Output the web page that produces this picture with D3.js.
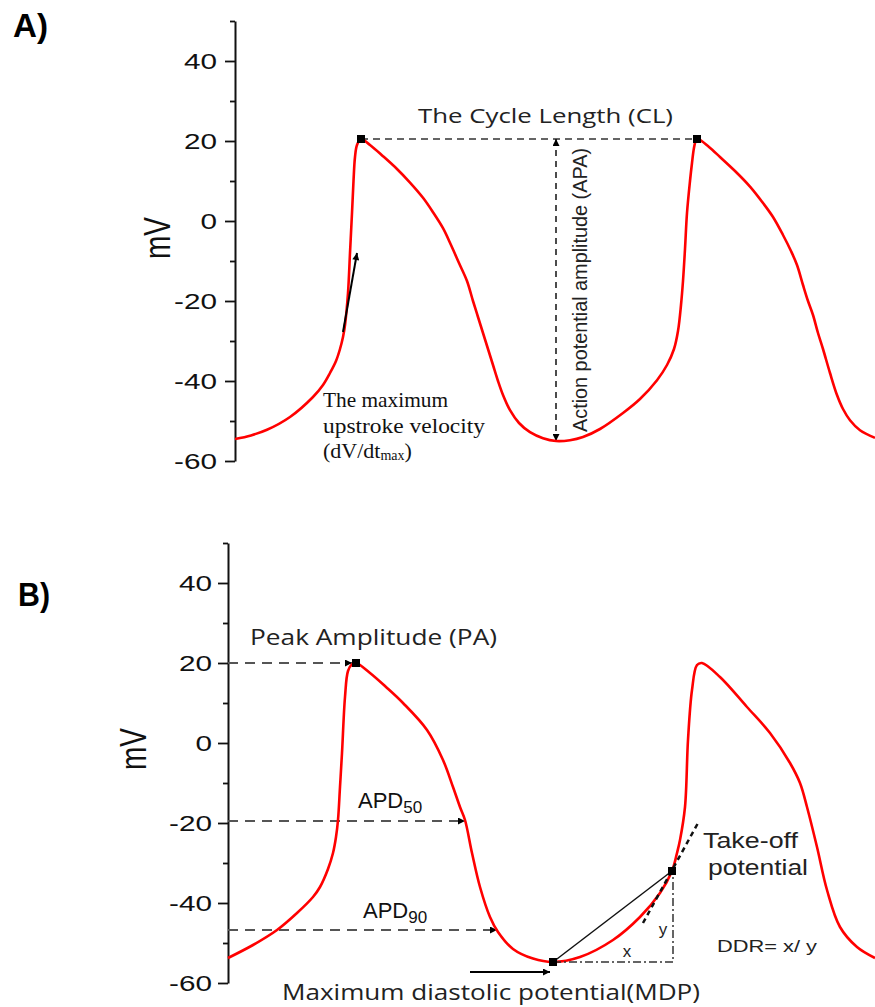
<!DOCTYPE html>
<html>
<head>
<meta charset="utf-8">
<script src="https://cdn.jsdelivr.net/npm/d3@7"></script>
<style>
  body { margin: 0; background: #fff; }
  svg { display: block; }
</style>
</head>
<body>
<svg id="chart" width="875" height="1007"></svg>
<script>
// ---------- Data ----------
const yTicks = [-60, -40, -20, 0, 20, 40];
const yMinor = [-50, -30, -10, 10, 30, 50];

// panel A trace: [time (a.u.), mV]
const traceA = [
  [0,-54.5],[16,-53.6],[32,-52.2],[55,-49],[78,-44],[88,-41],[95,-38],[101,-35],[105,-32],
  [108,-29],[110,-26],[113,-18],[115,-8],[117,2],[118.5,10],[120,16],[122,19],[126,20.5],
  [135,19],[148,16.2],[162,13],[175,9.6],[188,5.8],[198,2.2],[208,-1.8],[216,-6],[224,-10.5],
  [232,-15],[238,-20],[243,-24],[248,-28],[253,-32],[258,-36],[263,-40],[268,-43.5],[275,-47.3],
  [284,-50.5],[295,-52.8],[308,-54.3],[321,-55],[335,-54.8],[348,-54],[365,-52],[388,-48],
  [405,-44.5],[422,-39.8],[432,-36],[439,-32],[443,-27.5],[446,-21],[448,-15],[450,-7],[452,2],
  [455,10],[457,14.5],[459,18.3],[461,20.2],[463,20.5],[474,18.5],[485,16],[500,12.5],[515,8.6],
  [528,4.5],[538,1],[548,-3.5],[556,-7.5],[562,-11],[568,-16],[573,-20],[578,-23.5],[583,-28],
  [588,-32],[595,-38],[602,-43.5],[608,-47],[615,-49.8],[625,-52.3],[640,-54.2]
];
const peaksA = [[126, 20.5], [462, 20.5]];
const apaA = [[321, 20.5], [321, -55]];
const upstrokeA = [[108, -27.75], [122, -8]];

// panel B trace
const traceB = [
  [0,-53.75],[25,-50.5],[49,-46.75],[69,-42.5],[85,-38.5],[92,-36],[100,-31.5],[105,-27.5],
  [108,-23.5],[110,-19.25],[112,-11],[114,-2.5],[117,11.5],[120,18],[124,19.7],[128,20],
  [142,17.5],[158,14],[175,10],[199,3.25],[215,-4.25],[225,-11],[232,-16],[237,-19.25],
  [244,-27.5],[252,-36],[262,-43.5],[270,-47.25],[285,-51.5],[305,-53.9],[325,-54.75],
  [352,-53.5],[385,-49.25],[412,-43.5],[432,-37.5],[444,-32],[449,-27.5],[452,-24.25],
  [457,-16],[460,0.75],[464,13.25],[469,19.5],[474,20],[492,16.5],[519,9],[542,2.5],
  [562,-5],[572,-10],[579,-16],[589,-26],[599,-36.75],[612,-46],[629,-51],[647,-53.75]
];
const markersB = [[128, 20], [325, -54.75], [444, -32]];
const levelsB = [[124, 20], [237, -19.5], [269, -46.75]]; // [arrow tip time, mV]
const mdpArrow = [[242, -57.25], [322, -57.25]];
const chordB = [[325, -54.75], [444, -32]];
const tangentB = [[415, -45], [470, -20]];
const ddrB = [[325, -54.75], [445, -54.75], [445, -32]];

// ---------- Setup ----------
const svg = d3.select("#chart");
const SANS = "'Liberation Sans', Arial, sans-serif";
const CAL = "'Open Sans', 'Liberation Sans', sans-serif";
const SERIF = "'Liberation Serif', 'Times New Roman', serif";

const defs = svg.append("defs");
defs.append("marker").attr("id", "arr")
  .attr("viewBox", "0 0 10 10").attr("refX", 10).attr("refY", 5)
  .attr("markerUnits", "userSpaceOnUse").attr("markerWidth", 9).attr("markerHeight", 7)
  .attr("orient", "auto-start-reverse")
  .append("path").attr("d", "M0,0L10,5L0,10z").attr("fill", "#000");

const xA = d3.scaleLinear().domain([0, 640]).range([235, 875]);
const yA = d3.scaleLinear().domain([-60, 50]).range([461, 21]);
const xB = d3.scaleLinear().domain([0, 647]).range([228, 875]);
const yB = d3.scaleLinear().domain([-60, 50]).range([983, 543]);

function drawAxis(x0, y, pad) {
  const g = svg.append("g").attr("transform", `translate(${x0},0)`);
  g.append("g").call(d3.axisLeft(y).tickValues(yMinor).tickSize(5).tickFormat(""))
    .call(a => a.select(".domain").remove());
  const ax = g.append("g").call(d3.axisLeft(y).tickValues(yTicks).tickSize(10).tickSizeOuter(0)
    .tickFormat(d => String(d)));
  g.selectAll("line").attr("stroke", "#111").attr("stroke-width", 1.8);
  ax.select(".domain").attr("stroke", "#111").attr("stroke-width", 2);
  ax.selectAll("text")
    .attr("x", null)
    .attr("transform", `translate(${-(10 + pad)},0) scale(1.35,1)`)
    .attr("font-family", SANS).attr("font-size", 22).attr("fill", "#111");
}

function label(x, y, txt, size, o = {}) {
  const t = svg.append("text").attr("x", x).attr("y", y)
    .attr("font-family", o.family || SANS).attr("font-size", size)
    .attr("fill", o.fill || "#222").text(txt);
  if (o.weight) t.attr("font-weight", o.weight);
  if (o.anchor) t.attr("text-anchor", o.anchor);
  if (o.len) t.attr("textLength", o.len).attr("lengthAdjust", "spacingAndGlyphs");
  return t;
}

function yTitle(cx, cy) {
  svg.append("text")
    .attr("transform", `translate(${cx},${cy}) scale(1.3,1) rotate(-90)`)
    .attr("text-anchor", "middle").attr("dy", "0.36em")
    .attr("font-family", SANS).attr("font-size", 28).attr("fill", "#111")
    .text("mV");
}

const lineFn = (x, y) => d3.line().x(d => x(d[0])).y(d => y(d[1]));
const smooth = d3.curveCatmullRom.alpha(0.5);

// ---------- Panel A ----------
label(13, 37, "A)", 34, { weight: "bold", len: 35, fill: "#000" });
drawAxis(235, yA, 8);
yTitle(157, 238);

svg.append("path").datum(peaksA)
  .attr("d", lineFn(xA, yA)).attr("fill", "none")
  .attr("stroke", "#333").attr("stroke-width", 1.5).attr("stroke-dasharray", "7,5");

svg.append("path").datum(apaA)
  .attr("d", lineFn(xA, yA)).attr("fill", "none")
  .attr("stroke", "#111").attr("stroke-width", 1.5).attr("stroke-dasharray", "6,5")
  .attr("marker-start", "url(#arr)").attr("marker-end", "url(#arr)");

svg.append("path").datum(traceA)
  .attr("d", lineFn(xA, yA).curve(smooth)).attr("fill", "none")
  .attr("stroke", "#ff0000").attr("stroke-width", 2.6);

svg.selectAll(".sqA").data(peaksA).enter().append("rect")
  .attr("x", d => xA(d[0]) - 4).attr("y", d => yA(d[1]) - 4)
  .attr("width", 8).attr("height", 8).attr("fill", "#000");

svg.append("path").datum(upstrokeA)
  .attr("d", lineFn(xA, yA)).attr("fill", "none")
  .attr("stroke", "#000").attr("stroke-width", 2)
  .attr("marker-end", "url(#arr)");

label(xA(183), yA(24.5), "The Cycle Length (CL)", 20, { family: CAL, len: 255 });
svg.append("text")
  .attr("transform", `translate(${xA(352)},${yA(-17.25)}) rotate(-90)`)
  .attr("text-anchor", "middle")
  .attr("font-family", SANS).attr("font-size", 20).attr("fill", "#222")
  .attr("textLength", 284).attr("lengthAdjust", "spacingAndGlyphs")
  .text("Action potential amplitude (APA)");

label(xA(88), yA(-46.5), "The maximum", 22, { family: SERIF, len: 125, fill: "#111" });
label(xA(88), yA(-53), "upstroke velocity", 22, { family: SERIF, len: 162, fill: "#111" });
const dv = label(xA(88), yA(-59.25), "(dV/dt", 22, { family: SERIF, fill: "#111" });
dv.append("tspan").attr("font-size", 14).attr("dy", 2).text("max");
dv.append("tspan").attr("font-size", 22).attr("dy", -2).text(")");

// ---------- Panel B ----------
label(18, 606, "B)", 34, { weight: "bold", len: 32, fill: "#000" });
drawAxis(228, yB, 6);
yTitle(133, 749);

svg.selectAll(".lvl").data(levelsB).enter().append("path")
  .attr("d", d => lineFn(xB, yB)([[0, d[1]], d]))
  .attr("fill", "none").attr("stroke", "#555").attr("stroke-width", 2.2)
  .attr("stroke-dasharray", "10,7").attr("marker-end", "url(#arr)");

svg.append("path").datum(traceB)
  .attr("d", lineFn(xB, yB).curve(smooth)).attr("fill", "none")
  .attr("stroke", "#ff0000").attr("stroke-width", 2.6);

svg.append("path").datum(mdpArrow)
  .attr("d", lineFn(xB, yB)).attr("fill", "none")
  .attr("stroke", "#000").attr("stroke-width", 2).attr("marker-end", "url(#arr)");

svg.append("path").datum(ddrB)
  .attr("d", lineFn(xB, yB)).attr("fill", "none")
  .attr("stroke", "#333").attr("stroke-width", 1.5).attr("stroke-dasharray", "8,3,2,3");

svg.append("path").datum(chordB)
  .attr("d", lineFn(xB, yB)).attr("fill", "none")
  .attr("stroke", "#111").attr("stroke-width", 1.5);

svg.append("path").datum(tangentB)
  .attr("d", lineFn(xB, yB)).attr("fill", "none")
  .attr("stroke", "#111").attr("stroke-width", 2.5).attr("stroke-dasharray", "5,4");

svg.selectAll(".sqB").data(markersB).enter().append("rect")
  .attr("x", d => xB(d[0]) - 4).attr("y", d => yB(d[1]) - 4)
  .attr("width", 8).attr("height", 8).attr("fill", "#000");

label(xB(22), yB(24.5), "Peak Amplitude (PA)", 22, { family: CAL, len: 247 });
const apd50 = label(xB(130), yB(-16.25), "APD", 22, { fill: "#111" });
apd50.append("tspan").attr("font-size", 17).attr("dy", 5).text("50");
const apd90 = label(xB(135), yB(-43.75), "APD", 22, { fill: "#111" });
apd90.append("tspan").attr("font-size", 17).attr("dy", 5).text("90");
label(xB(54), yB(-64.2), "Maximum diastolic potential(MDP)", 22, { family: CAL, len: 418 });
label(xB(475), yB(-26.25), "Take-off", 22, { len: 95 });
label(xB(480), yB(-33), "potential", 22, { len: 100 });
label(xB(489), yB(-52.25), "DDR= x/ y", 16.5, { len: 100 });
label(xB(399), yB(-53.5), "x", 17, { anchor: "middle" });
label(xB(435), yB(-48), "y", 17, { anchor: "middle" });
</script>
</body>
</html>
